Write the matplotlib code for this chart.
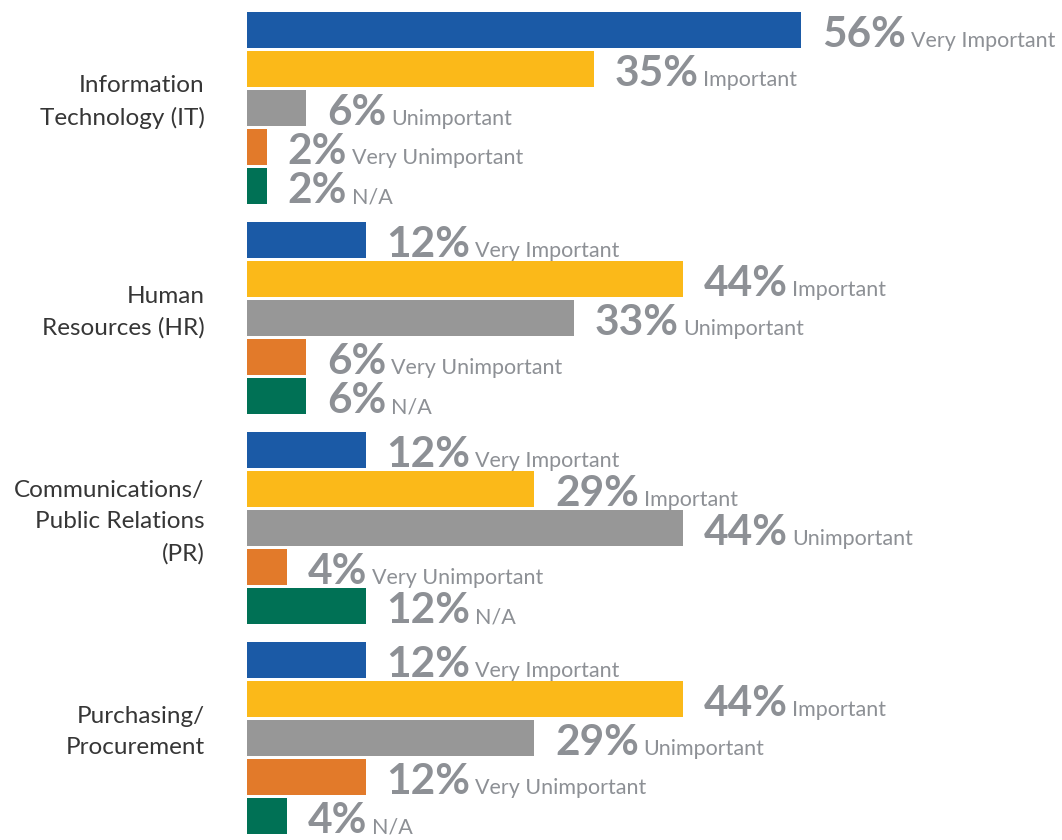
import matplotlib
matplotlib.use("Agg")
import matplotlib.pyplot as plt

# data
categories = ["Information\nTechnology (IT)", "Human\nResources (HR)",
              "Communications/\nPublic Relations\n(PR)", "Purchasing/\nProcurement"]
responses = ["Very Important", "Important", "Unimportant", "Very Unimportant", "N/A"]
it_vals = [56, 35, 6, 2, 2]
hr_vals = [12, 44, 33, 6, 6]
pr_vals = [12, 29, 44, 4, 12]
purch_vals = [12, 44, 29, 12, 4]
all_vals = [it_vals, hr_vals, pr_vals, purch_vals]

colors = ["#1b5aa6", "#fbb919", "#979797", "#e27a2a", "#007155"]
label_gray = "#8d9095"
cat_color = "#363636"

plt.rcParams["font.family"] = ["Lato", "DejaVu Sans"]

fig = plt.figure(figsize=(10.62, 8.4), dpi=100)
left = 247 / 1062
ax = fig.add_axes([left, 0, 1 - left, 1])

# layout in pixel-like units (y grows downward)
bar_pitch = 39
group_pitch = 210
bar_h = 36
first = 30

for g, vals in enumerate(all_vals):
    for j, v in enumerate(vals):
        y = first + g * group_pitch + j * bar_pitch
        ax.barh(y, v, height=bar_h, color=colors[j], edgecolor="none")
        base = y + bar_h / 2 - 1
        pct = ax.text(v + 2.1, base, f"{v}%", fontsize=30.5, fontweight="bold",
                      color=label_gray, va="baseline", ha="left")
        ax.annotate(responses[j], xy=(1, base), xycoords=(pct, "data"),
                    xytext=(3.5, 0), textcoords="offset points",
                    fontsize=15.5, color=label_gray, va="baseline", ha="left")
    yc = first + g * group_pitch + 1.85 * bar_pitch
    ax.text(-4.3, yc, categories[g], fontsize=17.5, color=cat_color,
            ha="right", va="center", linespacing=1.6, clip_on=False)

ax.set_xlim(0, 815 / 9.9)
ax.set_ylim(840, 0)
ax.axis("off")

fig.savefig("out.png", dpi=100)
